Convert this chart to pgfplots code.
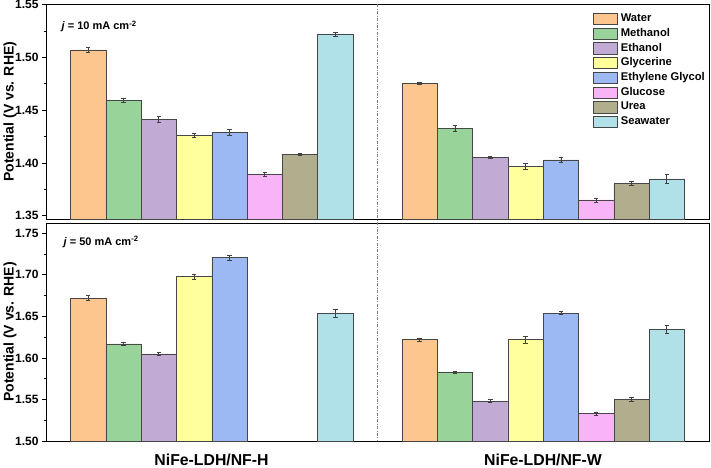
\documentclass[border=0pt]{standalone}
\usepackage{pgfplots}
\pgfplotsset{compat=1.18}
\usepackage{fontspec}
\setmainfont{Liberation Sans}

\definecolor{cWater}{HTML}{FDC68E}
\definecolor{cMeth}{HTML}{98D49A}
\definecolor{cEth}{HTML}{C1ABD5}
\definecolor{cGly}{HTML}{FFFF9C}
\definecolor{cEG}{HTML}{9DB9F3}
\definecolor{cGlu}{HTML}{F9B3F7}
\definecolor{cUrea}{HTML}{B1AE8E}
\definecolor{cSea}{HTML}{B1E1E8}

\pgfplotsset{
  panel/.style={
    scale only axis, width=663pt,
    xmin=0.5, xmax=2.5, xtick=\empty,
    ybar, bar width=0.1065, bar shift=0pt, area legend,
    ytick pos=left, tick align=outside,
    major tick length=4pt, minor tick length=2.5pt, minor y tick num=1,
    axis line style={black, line width=0.8pt},
    tick style={black, line width=0.7pt},
    yticklabel style={font=\bfseries\fontsize{12}{12}\selectfont,
      /pgf/number format/.cd, fixed, fixed zerofill, precision=2, assume math mode=true},
    ylabel={Potential (V vs. RHE)},
    every axis y label/.style={at={(rel axis cs:0,0.5)}, xshift=-36pt, rotate=90, anchor=center,
      font=\bfseries\fontsize{14}{14}\selectfont},
    every axis plot/.append style={draw=gray!55!black, line width=0.5pt,
      error bars/y dir=both, error bars/y explicit,
      error bars/error bar style={color=black!75, line width=0.7pt},
      error bars/error mark options={rotate=90, mark size=2.2pt, line width=0.7pt, color=black!75}},
    clip=false,
  },
}

\begin{document}
\begin{tikzpicture}
\path[use as bounding box] (0,0) rectangle (711pt,467pt);

% j = 10 mA cm-2
\begin{axis}[panel, at={(46pt,248pt)}, anchor=south west, height=214.5pt,
  ymin=1.347, ymax=1.55, ytick={1.35,1.40,1.45,1.50,1.55},
  legend style={at={(rel axis cs:0.994,0.961)}, anchor=north east, draw=none, fill=none,
    font=\bfseries\fontsize{11.2}{11.2}\selectfont, inner sep=0pt, row sep=3pt,
    nodes={inner sep=0pt, text height=8pt, text depth=2.5pt},
    /tikz/every odd column/.style={column sep=3.5pt}},
  legend cell align=left,
  legend image post style={xscale=1.41, yscale=1.97},
]
\addplot[fill=cWater] coordinates {(0.62725,1.507) +- (0,0.002) (1.62725,1.475) +- (0,0.001)};
\addplot[fill=cMeth]  coordinates {(0.73375,1.459) +- (0,0.002) (1.73375,1.433) +- (0,0.003)};
\addplot[fill=cEth]   coordinates {(0.84025,1.441) +- (0,0.003) (1.84025,1.405) +- (0,0.001)};
\addplot[fill=cGly]   coordinates {(0.94675,1.426) +- (0,0.002) (1.94675,1.397) +- (0,0.003)};
\addplot[fill=cEG]    coordinates {(1.05325,1.429) +- (0,0.003) (2.05325,1.403) +- (0,0.002)};
\addplot[fill=cGlu]   coordinates {(1.15975,1.389) +- (0,0.002) (2.15975,1.365) +- (0,0.002)};
\addplot[fill=cUrea]  coordinates {(1.26625,1.408) +- (0,0.001) (2.26625,1.381) +- (0,0.002)};
\addplot[fill=cSea]   coordinates {(1.37275,1.522) +- (0,0.002) (2.37275,1.385) +- (0,0.004)};
\legend{Water,Methanol,Ethanol,Glycerine,Ethylene Glycol,Glucose,Urea,Seawater}
\coordinate (st) at (axis cs:1.5,1.55);
\end{axis}

% j = 50 mA cm-2
\begin{axis}[panel, at={(46pt,26pt)}, anchor=south west, height=218pt,
  ymin=1.50, ymax=1.7624, ytick={1.50,1.55,1.60,1.65,1.70,1.75},
]
\addplot[fill=cWater] coordinates {(0.62725,1.672) +- (0,0.003) (1.62725,1.622) +- (0,0.002)};
\addplot[fill=cMeth]  coordinates {(0.73375,1.617) +- (0,0.002) (1.73375,1.583) +- (0,0.001)};
\addplot[fill=cEth]   coordinates {(0.84025,1.605) +- (0,0.002) (1.84025,1.548) +- (0,0.002)};
\addplot[fill=cGly]   coordinates {(0.94675,1.698) +- (0,0.003) (1.94675,1.622) +- (0,0.004)};
\addplot[fill=cEG]    coordinates {(1.05325,1.721) +- (0,0.003) (2.05325,1.654) +- (0,0.002)};
\addplot[fill=cGlu]   coordinates {(2.15975,1.533) +- (0,0.002)};
\addplot[fill=cUrea]  coordinates {(2.26625,1.550) +- (0,0.002)};
\addplot[fill=cSea]   coordinates {(1.37275,1.654) +- (0,0.005) (2.37275,1.634) +- (0,0.005)};
\coordinate (sb) at (axis cs:1.5,1.50);
\end{axis}

\draw[gray, dash pattern=on 3pt off 1.5pt on 0.8pt off 1.5pt, line width=0.6pt] (st) -- (sb);

\node[anchor=base west, font=\bfseries\fontsize{11}{11}\selectfont] at (58pt,437pt) {\textit{j} = 10 mA cm\textsuperscript{-2}};
\node[anchor=base west, font=\bfseries\fontsize{11}{11}\selectfont] at (60pt,222pt) {\textit{j} = 50 mA cm\textsuperscript{-2}};
\node[anchor=base, font=\bfseries\fontsize{15.8}{15.8}\selectfont] at (211.5pt,2pt) {NiFe-LDH/NF-H};
\node[anchor=base, font=\bfseries\fontsize{15.8}{15.8}\selectfont] at (543pt,2pt) {NiFe-LDH/NF-W};
\end{tikzpicture}
\end{document}
